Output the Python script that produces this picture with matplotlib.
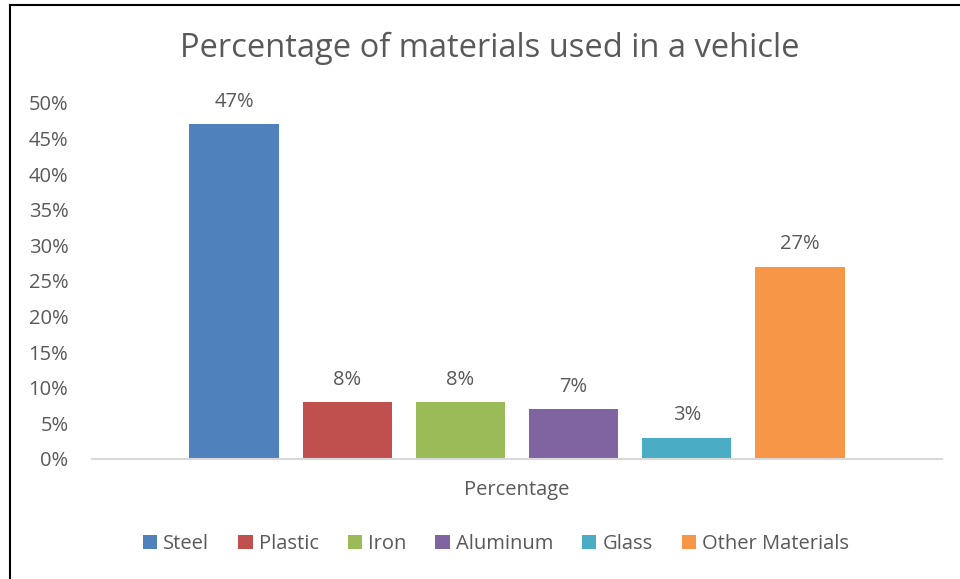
import matplotlib.pyplot as plt
from matplotlib.lines import Line2D

materials = ["Steel", "Plastic", "Iron", "Aluminum", "Glass", "Other Materials"]
shares = [0.47, 0.08, 0.08, 0.07, 0.03, 0.27]
colors = ["#4F81BD", "#C0504D", "#9BBB59", "#8064A2", "#4BACC6", "#F79646"]
yticks = [0, 0.05, 0.10, 0.15, 0.20, 0.25, 0.30, 0.35, 0.40, 0.45, 0.50]

plt.rcParams['font.family'] = ['Open Sans', 'DejaVu Sans']
txt = "#595959"
fs = 14.5

fig = plt.figure(figsize=(9.6, 5.79), dpi=100)
ax = fig.add_axes([92/960, 1-459/579, 850/960, 356/579])

pos = list(range(len(materials)))
bars = ax.bar(pos, shares, width=0.79, color=colors, label=materials)
for x, v in zip(pos, shares):
    ax.annotate(f"{round(v*100)}%", (x, v), xytext=(0, 9), textcoords="offset points",
                ha="center", va="bottom", fontsize=fs, color=txt)

ax.set_xlim(-1.255, 6.255)
ax.set_ylim(0, 0.5)
ax.set_yticks(yticks)
ax.set_yticklabels([f"{round(t*100)}%" for t in yticks], fontsize=fs, color=txt)
ax.tick_params(axis='y', length=0, pad=17)
ax.set_xticks([])
for s in ["top", "right", "left"]:
    ax.spines[s].set_visible(False)
ax.spines["bottom"].set_color("#D9D9D9")
ax.spines["bottom"].set_linewidth(1.5)

fig.text(517/960, 1-490/579, "Percentage", ha="center", va="center", fontsize=fs, color=txt)
fig.text(490/960, 1-48/579, "Percentage of materials used in a vehicle", ha="center",
         va="center", fontsize=23.5, color=txt)

leg = fig.legend(bars, materials, loc="center", bbox_to_anchor=(496/960, 1-544/579), ncol=6,
                 frameon=False, fontsize=fs, handlelength=0.7, handleheight=0.7,
                 handletextpad=0.3, columnspacing=1.45)
for t in leg.get_texts():
    t.set_color(txt)

# chart border (cropped screenshot: only top and left edges visible)
fig.add_artist(Line2D([10/960, 1], [1-5/579, 1-5/579], color="black", lw=1.5))
fig.add_artist(Line2D([10/960, 10/960], [0, 1-5/579], color="black", lw=1.5))

fig.savefig("out.png", dpi=100)
